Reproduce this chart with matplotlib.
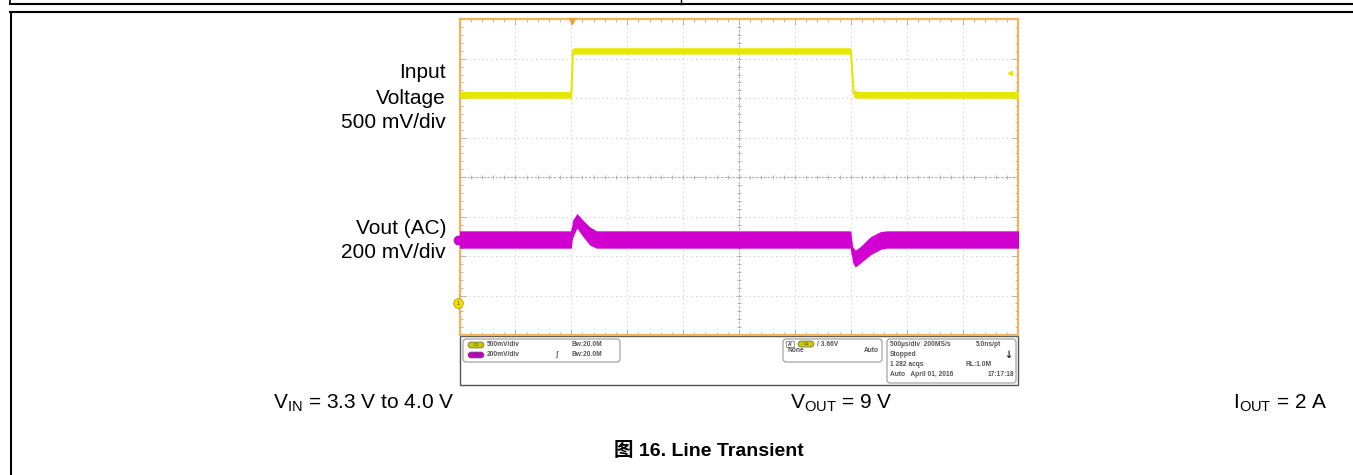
import numpy as np
import matplotlib
matplotlib.use("Agg")
import matplotlib.pyplot as plt
from matplotlib.patches import FancyBboxPatch, Rectangle

plt.rcParams['font.family'] = ['Liberation Sans', 'Noto Sans CJK SC', 'DejaVu Sans']
plt.rcParams['mathtext.fontset'] = 'custom'
plt.rcParams['mathtext.rm'] = 'Liberation Sans'

# scope traces, time and level in divisions (10 x 8 screen)
yel_t = [0, 2.00, 2.03, 7.00, 7.05, 7.15, 10]
yel_hi = [6.17, 6.17, 7.28, 7.28, 6.21, 6.17, 6.17]
yel_lo = [6.00, 6.00, 7.12, 7.12, 6.02, 6.00, 6.00]

mag_t = [0, 2.00, 2.02, 2.10, 2.21, 2.33, 2.45, 7.00, 7.03, 7.08, 7.17, 7.35, 7.53, 7.64, 10]
mag_hi = [2.64, 2.64, 2.90, 3.08, 2.91, 2.74, 2.64, 2.64, 2.25, 2.15, 2.24, 2.49, 2.62, 2.64, 2.64]
mag_lo = [2.20, 2.20, 2.45, 2.71, 2.49, 2.28, 2.20, 2.20, 1.85, 1.72, 1.82, 2.03, 2.17, 2.20, 2.20]

left_labels = [("Input", 73), ("Voltage", 98), ("500 mV/div", 123),
               ("Vout (AC)", 228), ("200 mV/div", 253)]
cond_vin = r"V$_{\mathregular{IN}}$ = 3.3 V to 4.0 V"
cond_vout = r"V$_{\mathregular{OUT}}$ = 9 V"
cond_iout = r"I$_{\mathregular{OUT}}$ = 2 A"
caption = "图 16. Line Transient"

YEL = '#e6e600'
MAG = '#d000d0'
ORANGE = '#f2b35c'
PANEL_TXT = '#555555'

fig = plt.figure(figsize=(13.53, 4.75), dpi=100)

# page layer in pixel coordinates
bg = fig.add_axes([0, 0, 1, 1])
bg.set_xlim(0, 1353)
bg.set_ylim(475, 0)
bg.axis('off')

# page frame lines
bg.plot([10, 1353], [4, 4], color='black', lw=1.5)
bg.plot([10, 10], [0, 4], color='black', lw=1.2)
bg.plot([681, 681], [0, 4], color='black', lw=1.0)
bg.plot([10, 1353], [11.5, 11.5], color='black', lw=1.5)
bg.plot([10.5, 10.5], [11.5, 475], color='black', lw=1.5)

for txt, y in left_labels:
    bg.text(446, y, txt, ha='right', va='center', fontsize=15)

bg.text(273, 408, cond_vin, ha='left', va='baseline', fontsize=15)
bg.text(841, 408, cond_vout, ha='center', va='baseline', fontsize=15)
bg.text(1233, 408, cond_iout, ha='left', va='baseline', fontsize=15)
bg.text(709, 456.5, caption, ha='center', va='baseline', fontsize=14, fontweight='bold')

# info panel below the screen
bg.add_patch(Rectangle((460, 336), 558, 49, facecolor='white', edgecolor='#555555', lw=1.0))
for (x0, y0, x1, y1) in [(463, 339, 620, 362), (783, 339, 882, 362), (887, 339, 1016, 383)]:
    bg.add_patch(FancyBboxPatch((x0, y0), x1 - x0, y1 - y0,
                                boxstyle="round,pad=0,rounding_size=3",
                                facecolor='white', edgecolor='#999999', lw=0.8))


def badge(xc, yc, color, label):
    bg.add_patch(FancyBboxPatch((xc - 8, yc - 3), 16, 6,
                                boxstyle="round,pad=0,rounding_size=3",
                                facecolor=color, edgecolor='#666666', lw=0.5))
    bg.text(xc, yc, label, ha='center', va='center', fontsize=3, color='#333333')


badge(476, 345, '#c8c800', 'C1')
badge(476, 355, '#c000c0', 'C2')
badge(806, 344, '#c8c800', 'C1')
bg.add_patch(Rectangle((786, 341), 8, 6, facecolor='white', edgecolor='#777777', lw=0.5))
bg.text(790, 344, "A'", ha='center', va='center', fontsize=3.5, color='#333333', fontweight='bold')

pkw = dict(fontsize=4.8, color=PANEL_TXT, fontweight='bold', va='center')
bg.text(487, 345, "500mV/div", ha='left', **pkw)
bg.text(487, 355, "200mV/div", ha='left', **pkw)
bg.text(572, 345, "Bw:20.0M", ha='left', **pkw)
bg.text(572, 355, "Bw:20.0M", ha='left', **pkw)
bg.text(556, 355, "ʃ", ha='center', **pkw)
bg.text(817, 344, "/ 3.66V", ha='left', **pkw)
bg.text(787, 351, "None", ha='left', **pkw)
bg.text(879, 351, "Auto", ha='right', **pkw)
bg.text(890, 344, "500µs/div  200MS/s", ha='left', **pkw)
bg.text(1001, 344, "5.0ns/pt", ha='right', **pkw)
bg.text(890, 354, "Stopped", ha='left', **pkw)
bg.text(1008, 355, "↓", ha='center', fontsize=7, color='#222222', fontweight='bold',
        va='center', family='DejaVu Sans')
bg.text(890, 364, "1 282 acqs", ha='left', **pkw)
bg.text(966, 364, "RL:1.0M", ha='left', **pkw)
bg.text(890, 374, "Auto   April 01, 2016", ha='left', **pkw)
bg.text(1014, 374, "17:17:18", ha='right', **pkw)

# scope screen
ax = fig.add_axes([459.5 / 1353, (475 - 335) / 475, 559 / 1353, 315.7 / 475])
ax.set_xlim(0, 10)
ax.set_ylim(0, 8)
ax.set_facecolor('white')
for sp in ax.spines.values():
    sp.set_color(ORANGE)
    sp.set_linewidth(1.6)
ax.set_xticks(range(0, 11))
ax.set_yticks(range(0, 9))
ax.set_xticks(np.arange(0, 10.01, 0.2), minor=True)
ax.set_yticks(np.arange(0, 8.01, 0.2), minor=True)
ax.tick_params(which='both', direction='in', top=True, right=True,
               labelbottom=False, labelleft=False, color='#aaaaaa', width=0.6)
ax.tick_params(which='major', length=4)
ax.tick_params(which='minor', length=2.5)
ax.grid(True, which='major', color='#c8c8c8', lw=0.8, ls=(0, (1, 3)))

# centre cross with small graticule marks
ax.axvline(5, color='#b4b4b4', lw=0.8, ls=(0, (2, 1.5)))
ax.axhline(4, color='#b4b4b4', lw=0.8, ls=(0, (2, 1.5)))
minor_x = np.arange(0, 10.01, 0.2)
minor_y = np.arange(0, 8.01, 0.2)
ax.plot(minor_x, np.full_like(minor_x, 4), ls='none', marker='|', ms=3.5, color='#aaaaaa', mew=0.6)
ax.plot(np.full_like(minor_y, 5), minor_y, ls='none', marker='_', ms=3.5, color='#aaaaaa', mew=0.6)

ax.fill_between(yel_t, yel_lo, yel_hi, color=YEL, lw=0, zorder=3)
ax.plot(yel_t, [(a + b) / 2 for a, b in zip(yel_lo, yel_hi)], color=YEL, lw=1.5, zorder=3)
ax.fill_between(mag_t, mag_lo, mag_hi, color=MAG, lw=0, zorder=4)
ax.plot(mag_t, [(a + b) / 2 for a, b in zip(mag_lo, mag_hi)], color=MAG, lw=1.5, zorder=4)

# channel / trigger markers
ax.plot([-0.02], [2.42], marker='o', ms=6, color=MAG, clip_on=False, zorder=6)
ax.plot([-0.02], [0.81], marker='o', ms=7, mfc='#f0e000', mec='#c8a000', mew=0.6,
        clip_on=False, zorder=6)
ax.text(-0.02, 0.81, "1", ha='center', va='center', fontsize=4, color='#444444', zorder=7)
ax.plot([2.02], [7.95], marker='v', ms=4, color='#f0a030', clip_on=False, zorder=6)
ax.plot([9.85], [6.64], marker='<', ms=3, color=YEL, zorder=6)

fig.savefig("out.png", dpi=100)
